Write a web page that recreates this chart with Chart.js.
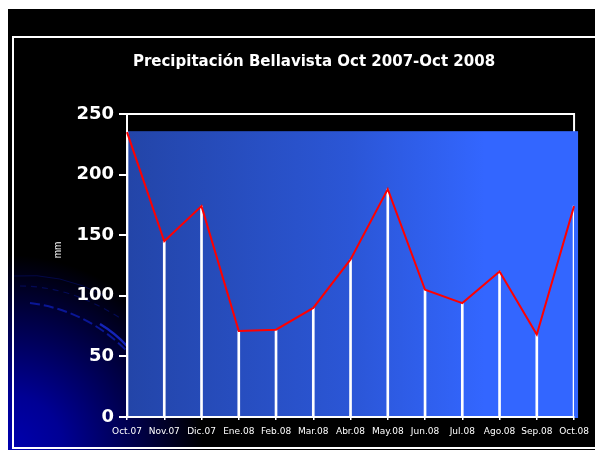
<!DOCTYPE html>
<html>
<head>
<meta charset="utf-8">
<script src="https://cdn.jsdelivr.net/npm/chart.js@4/dist/chart.umd.min.js"></script>
<style>
  html, body { margin: 0; padding: 0; background: #fff; }
  #slide {
    position: absolute; left: 8px; top: 9px; width: 587px; height: 441px;
    background: radial-gradient(circle 250px at 0 100%, #0000b0 0%, #000094 22%, #000040 55%, #000 78%);
  }
  #frame {
    position: absolute; left: 12px; top: 36px; width: 600px; height: 413px;
    box-sizing: border-box; border: solid #fff; border-width: 2px 0 2px 2px;
  }
  #swirl { position: absolute; left: 0; top: 0; }
  #chart { position: absolute; left: 0; top: 0; }
</style>
</head>
<body>
<div id="slide"></div>
<svg id="swirl" width="595" height="450">
  <path d="M14 276 Q 60 272 105 296" fill="none" stroke="#06107a" stroke-width="1" opacity="0.5"/>
  <path d="M20 286 Q 70 286 120 318" fill="none" stroke="#06107a" stroke-width="1.2" stroke-dasharray="6 5" opacity="0.6"/>
  <path d="M30 303 Q 85 310 126 350" fill="none" stroke="#0c1aa8" stroke-width="2" stroke-dasharray="10 4" opacity="0.85"/>
  <path d="M100 324 Q 115 333 127 346" fill="none" stroke="#1424b8" stroke-width="2.5"/>
</svg>
<div id="frame"></div>
<canvas id="chart" width="595" height="450"></canvas>
<script>
(function () {
  "use strict";

  var months = ["Oct.07", "Nov.07", "Dic.07", "Ene.08", "Feb.08", "Mar.08", "Abr.08",
                "May.08", "Jun.08", "Jul.08", "Ago.08", "Sep.08", "Oct.08"];
  var rainfall = [235, 145, 174, 71, 72, 90, 130, 188, 105, 94, 120, 68, 174];
  var yMin = 0, yMax = 250, yStep = 50;
  var titleText = "Precipitación Bellavista Oct 2007-Oct 2008";
  var yTitle = "mm";

  var white = "#ffffff";

  // blue plot backdrop + top/right frame of the plot area
  var backdrop = {
    id: "backdrop",
    beforeDraw: function (chart) {
      var a = chart.chartArea, ctx = chart.ctx;
      var top = chart.scales.y.getPixelForValue(rainfall[0]) - 1;
      ctx.save();
      ctx.strokeStyle = white;
      ctx.lineWidth = 2;
      ctx.strokeRect(a.left, a.top, a.right - a.left, a.bottom - a.top);
      var g = ctx.createLinearGradient(a.left, 0, a.right, 0);
      g.addColorStop(0, "#2345a8");
      g.addColorStop(0.5, "#2b56d6");
      g.addColorStop(0.8, "#3366ff");
      g.addColorStop(1, "#3366ff");
      ctx.fillStyle = g;
      ctx.fillRect(a.left, top, a.right - a.left + 4, a.bottom - top + 1);
      ctx.restore();
    },
    afterDraw: function (chart) {
      var ctx = chart.ctx;
      ctx.save();
      ctx.translate(58, 250);
      ctx.rotate(-Math.PI / 2);
      ctx.fillStyle = white;
      ctx.font = "10px 'Liberation Sans', Arial, sans-serif";
      ctx.textAlign = "center";
      ctx.textBaseline = "middle";
      ctx.fillText(yTitle, 0, 0);
      ctx.restore();
    }
  };

  new Chart(document.getElementById("chart").getContext("2d"), {
    type: "bar",
    data: {
      labels: months,
      datasets: [
        {
          type: "line",
          data: rainfall,
          borderColor: "#ff0000",
          borderWidth: 2,
          pointRadius: 0,
          tension: 0,
          fill: false,
          order: 0
        },
        {
          type: "bar",
          data: rainfall,
          backgroundColor: white,
          borderWidth: 0,
          barThickness: 2,
          order: 1
        }
      ]
    },
    options: {
      responsive: false,
      animation: false,
      layout: { padding: { left: 53, right: 20, top: 0, bottom: 0 } },
      plugins: {
        legend: { display: false },
        tooltip: { enabled: false },
        title: {
          display: true,
          text: titleText,
          color: white,
          font: { family: "'DejaVu Sans', sans-serif", weight: "bold", size: 15 },
          padding: { top: 53, bottom: 43 }
        }
      },
      scales: {
        x: {
          offset: false,
          afterFit: function (s) { s.height = 33; },
          border: { color: white, width: 2 },
          grid: { offset: false, drawOnChartArea: false, tickLength: 3, color: white, lineWidth: 1.5 },
          ticks: {
            color: white,
            autoSkip: false,
            maxRotation: 0,
            padding: 6,
            font: { family: "'DejaVu Sans', sans-serif", size: 9 }
          }
        },
        y: {
          min: yMin,
          max: yMax,
          afterFit: function (s) { s.width = 74; },
          border: { color: white, width: 2 },
          grid: { drawOnChartArea: false, tickLength: 8, color: white, lineWidth: 2 },
          ticks: {
            stepSize: yStep,
            color: white,
            padding: 5,
            font: { family: "'DejaVu Sans', sans-serif", weight: "bold", size: 18 }
          }
        }
      }
    },
    plugins: [backdrop]
  });
})();
</script>
</body>
</html>
